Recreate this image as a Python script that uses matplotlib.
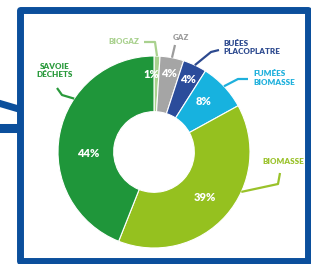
import matplotlib
matplotlib.use("Agg")
import matplotlib.pyplot as plt
import numpy as np
from matplotlib.patches import Rectangle
from matplotlib.lines import Line2D

# data
labels = ["BIOGAZ", "GAZ", "BUÉES\nPLACOPLATRE", "FUMÉES\nBIOMASSE", "BIOMASSE", "SAVOIE\nDÉCHETS"]
values = [1, 4, 4, 8, 39, 44]
colors = ["#a9d18e", "#a5a5a5", "#2b4c9b", "#17b2df", "#95c11f", "#1f963a"]
text_colors = ["#a9d18e", "#9c9c9c", "#2d4a8f", "#1eb0dc", "#9ac22a", "#2a9a3c"]

W, H = 311, 264
fig = plt.figure(figsize=(W / 100, H / 100), dpi=100)
fig.patch.set_facecolor("white")

# pie axes: centre (154, 152) px, radius 96 px
cx, cy, R = 154, 152, 96
ax = fig.add_axes([(cx - R) / W, (H - cy - R) / H, 2 * R / W, 2 * R / H])
wedges, _ = ax.pie(values, colors=colors, startangle=90, counterclock=False,
                   radius=1.0, wedgeprops=dict(width=0.58, edgecolor="white", linewidth=0.8))
ax.set_xlim(-1, 1)
ax.set_ylim(-1, 1)
ax.axis("off")

font = "Lato"

# percentage labels inside the ring
pct_r = [0.81, 0.83, 0.83, 0.74, 0.71, 0.69]
pct_shift = [4, 0, 0, 2, 0, 12]
for w, v, r, s in zip(wedges, values, pct_r, pct_shift):
    a = np.deg2rad((w.theta1 + w.theta2) / 2 + s)
    ax.text(r * np.cos(a), r * np.sin(a), f"{v}%", color="white", fontsize=8,
            fontweight="heavy", family=font, ha="center", va="center")


def px(x, y):
    return (x - cx) / R, (cy - y) / R


# leader lines: anchor fraction along wedge, then bend points (px)
anchor_frac = [0.5, 0.5, 0.5, 0.5, 0.38, 0.645]
bends = [
    [(155, 42), (144, 42)],
    [(175, 45)],
    [(211, 52), (219, 50)],
    [(238, 79), (248, 79)],
    [(278, 184), (280, 173)],
    [(62, 95), (57, 88)],
]
text_pos = [(124, 41), (181, 38), (223, 47.5), (253, 78), (283, 162), (55, 70.5)]
text_ha = ["center", "center", "left", "left", "center", "center"]

for w, frac, pts, col, lab, tp, ha in zip(wedges, anchor_frac, bends, text_colors,
                                          labels, text_pos, text_ha):
    ang = np.deg2rad(w.theta2 - frac * (w.theta2 - w.theta1))
    xs = [1.0 * np.cos(ang)] + [px(*p)[0] for p in pts]
    ys = [1.0 * np.sin(ang)] + [px(*p)[1] for p in pts]
    ax.plot(xs, ys, color=col, lw=1.6, clip_on=False, solid_capstyle="butt")
    tx, ty = px(*tp)
    ax.text(tx, ty, lab, color=col, fontsize=5.8, fontweight="heavy", family=font,
            ha=ha, va="center", linespacing=1.25)

# blue frame and connector lines
blue = "#0b4f9c"
fig.patches.append(Rectangle((19.5 / W, (H - 261) / H), (308 - 19.5) / W, (261 - 9.5) / H,
                             transform=fig.transFigure, fill=False, edgecolor=blue,
                             linewidth=5, joinstyle="round"))
fig.lines.append(Line2D([0, 17 / W], [(H - 103.5) / H, (H - 108.5) / H],
                        transform=fig.transFigure, color=blue, linewidth=5))
fig.lines.append(Line2D([0, 17 / W], [(H - 128) / H, (H - 128) / H],
                        transform=fig.transFigure, color=blue, linewidth=6.5))

fig.savefig("out.png", dpi=100, facecolor="white")
